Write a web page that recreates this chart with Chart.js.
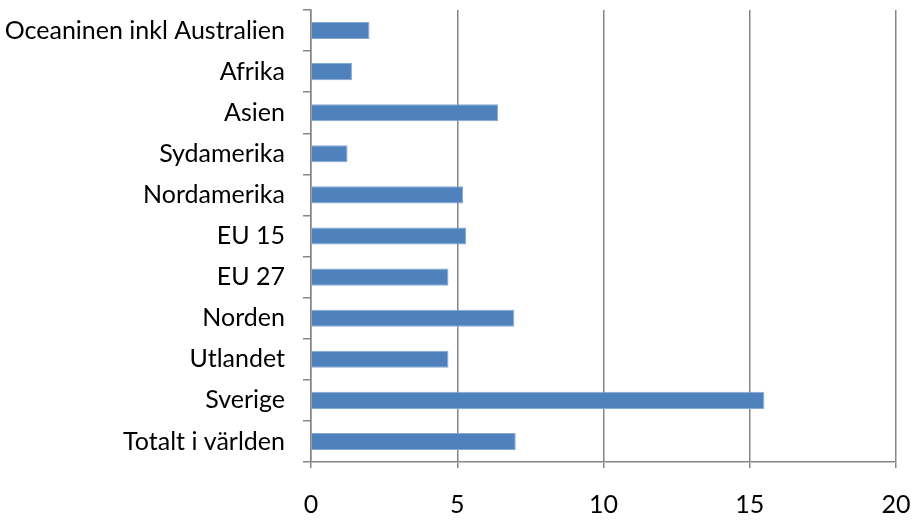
<!DOCTYPE html>
<html>
<head>
<meta charset="utf-8">
<script src="https://cdn.jsdelivr.net/npm/chart.js@4/dist/chart.umd.min.js"></script>
<style>
  html, body { margin: 0; padding: 0; background: #fff; }
  #wrap { width: 915px; height: 520px; }
</style>
</head>
<body>
<div id="wrap"><canvas id="ch_regions"></canvas></div>
<script>
// categories, top to bottom as drawn
const regions = [
  'Oceaninen inkl Australien', 'Afrika', 'Asien', 'Sydamerika', 'Nordamerika',
  'EU 15', 'EU 27', 'Norden', 'Utlandet', 'Sverige', 'Totalt i världen'
];
const shares = [2.0, 1.4, 6.4, 1.25, 5.2, 5.3, 4.7, 6.95, 4.7, 15.5, 7.0];
const xTicks = [0, 5, 10, 15, 20];

const GRID = '#868686';
const FONT = { family: 'Lato, "Open Sans", sans-serif', size: 25 };

new Chart(document.getElementById('ch_regions').getContext('2d'), {
  type: 'bar',
  data: {
    labels: regions,
    datasets: [{
      data: shares,
      backgroundColor: '#4F81BD',
      borderColor: '#86A8D6',
      borderWidth: 1,
      categoryPercentage: 0.8,
      barPercentage: 0.52
    }]
  },
  options: {
    indexAxis: 'y',
    responsive: true,
    maintainAspectRatio: false,
    animation: false,
    layout: { padding: { top: 10, right: 19, left: 0, bottom: 0 } },
    plugins: { legend: { display: false }, tooltip: { enabled: false } },
    scales: {
      x: {
        min: xTicks[0],
        max: xTicks[xTicks.length - 1],
        afterBuildTicks: s => { s.ticks = xTicks.map(v => ({ value: v })); },
        afterFit: s => { s.height = 58; s.paddingLeft = 0; s.paddingRight = 0; },
        grid: { color: GRID, lineWidth: 1.5, tickLength: 6 },
        border: { color: GRID, width: 1.5 },
        ticks: { color: '#000', font: FONT, padding: 22, maxRotation: 0 }
      },
      y: {
        afterFit: s => { s.width = 311; s.paddingTop = 0; s.paddingBottom = 0; },
        grid: { color: GRID, lineWidth: 1.5, drawOnChartArea: false, tickLength: 8, offset: true },
        border: { color: GRID, width: 1.5 },
        ticks: { color: '#000', font: FONT, padding: 18, autoSkip: false }
      }
    }
  }
});
</script>
</body>
</html>
